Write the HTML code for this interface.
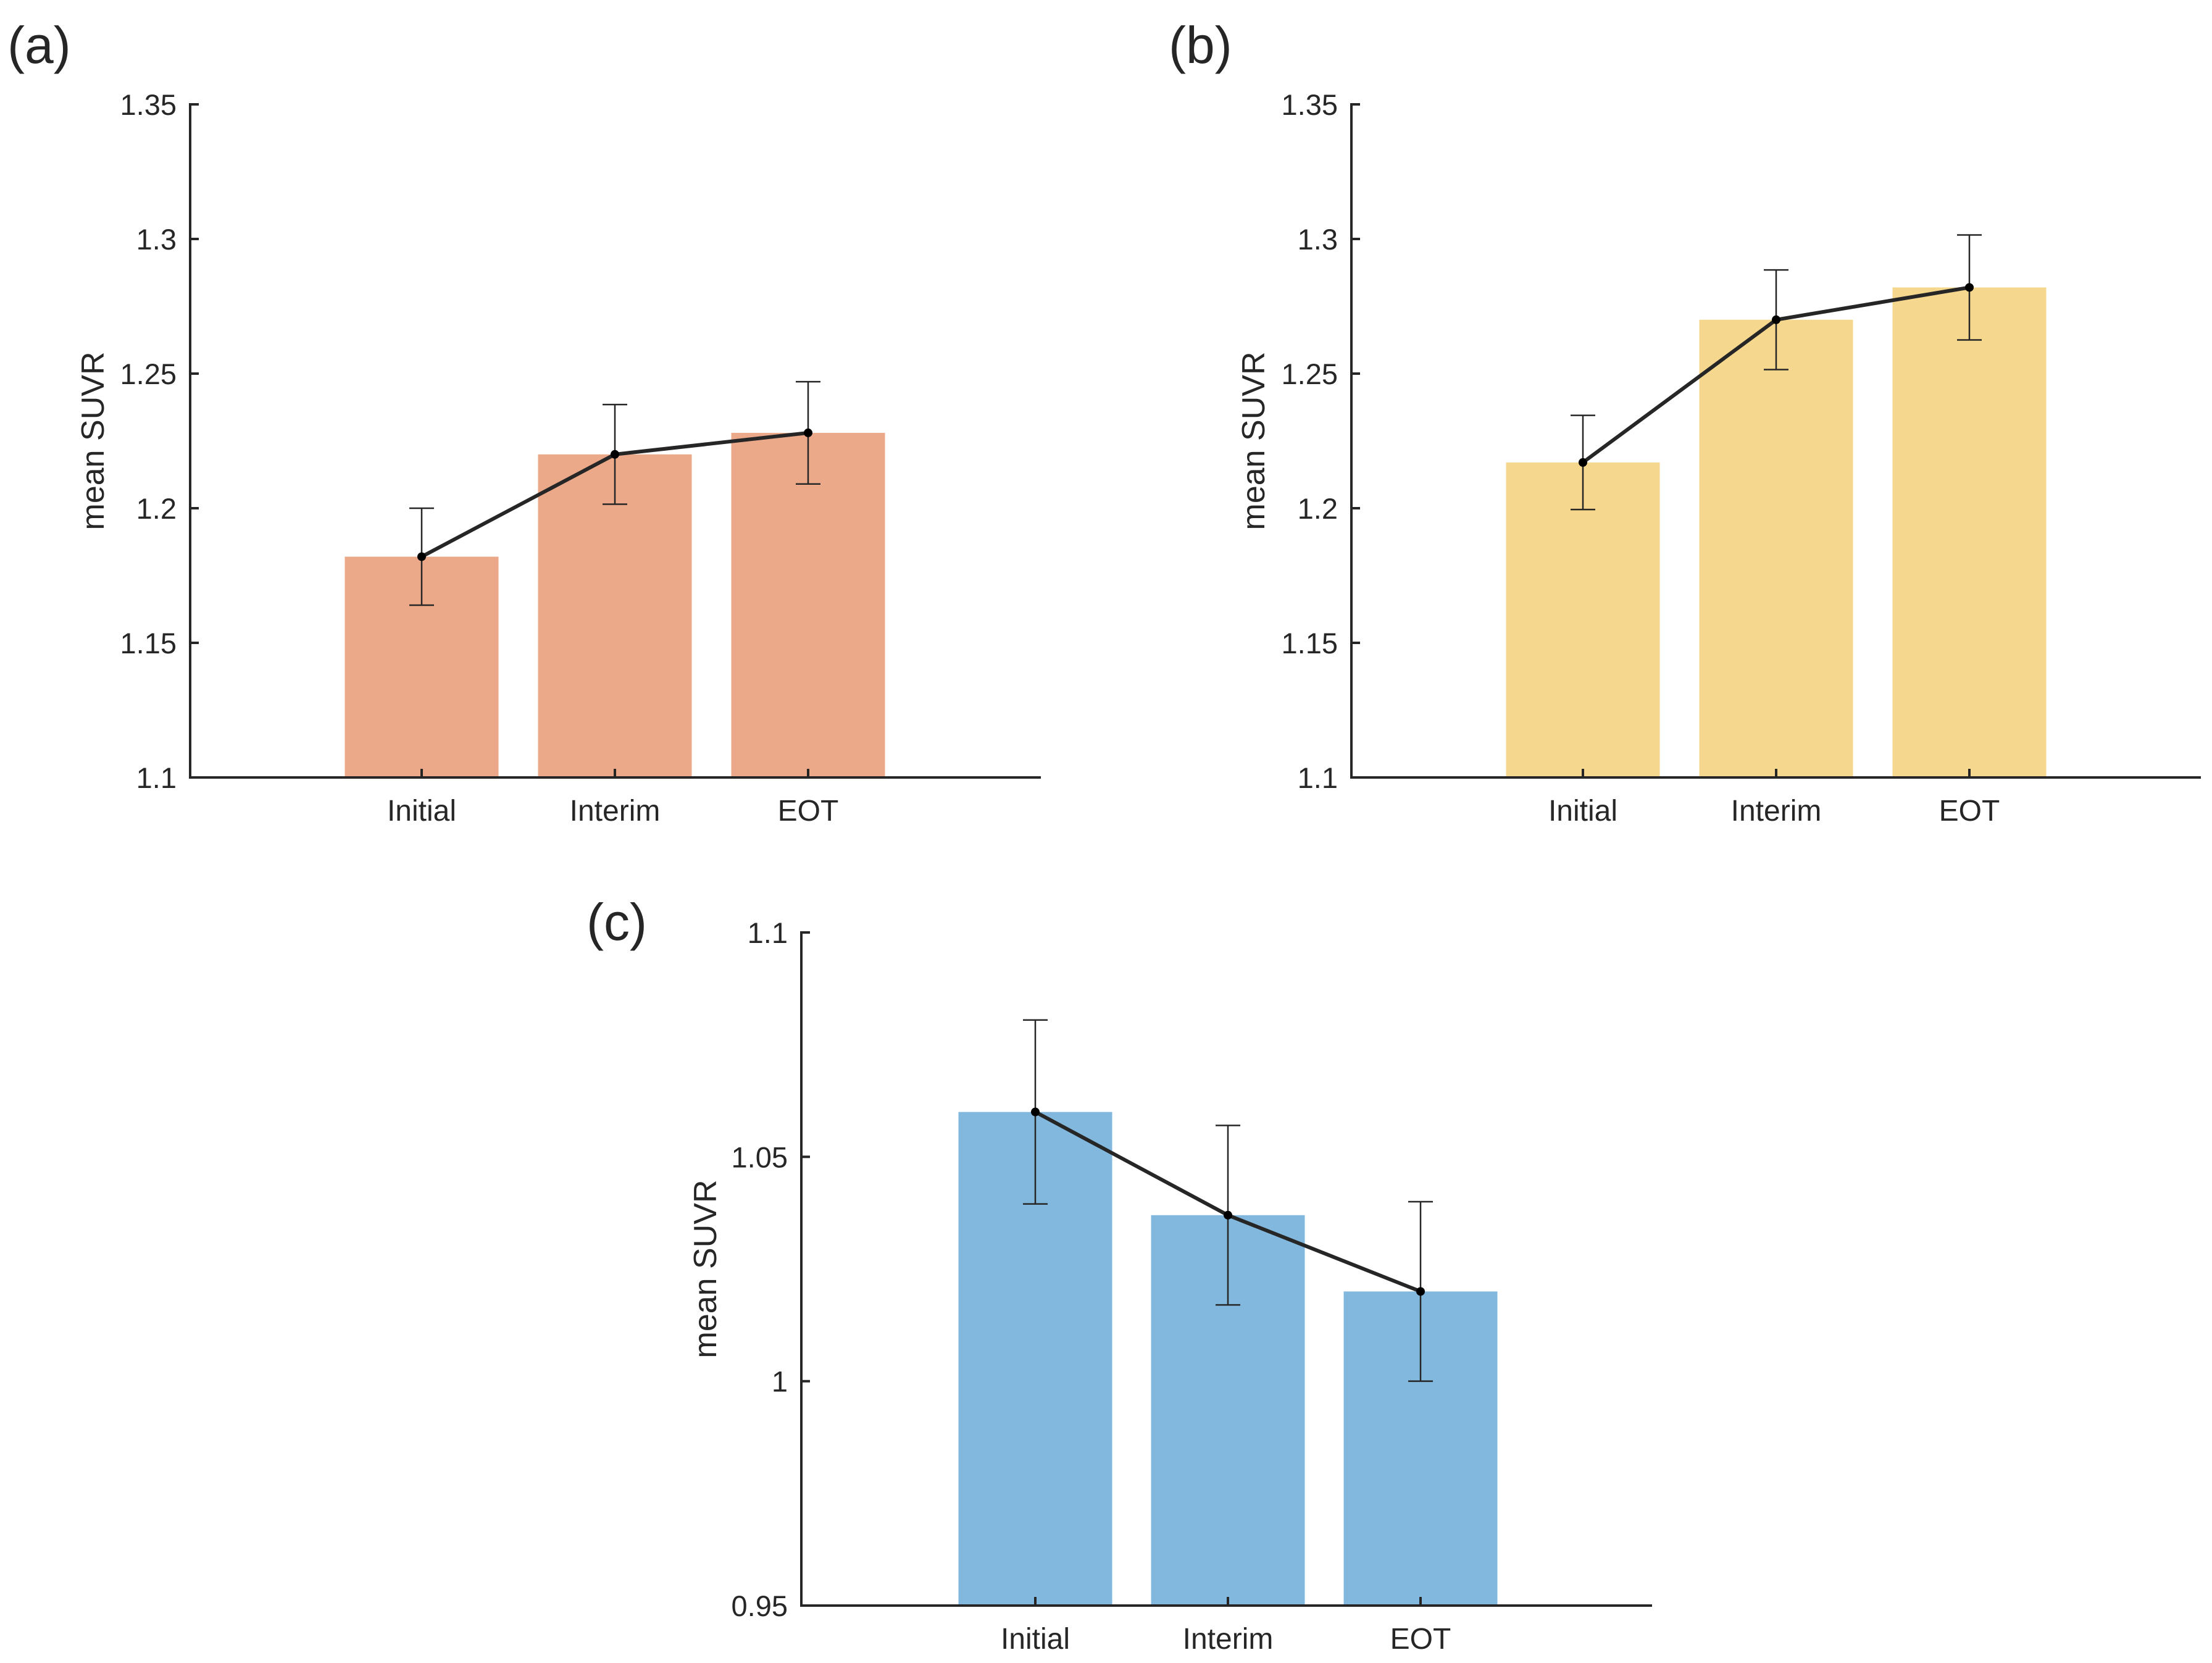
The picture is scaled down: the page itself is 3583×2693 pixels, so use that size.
<!DOCTYPE html>
<html><head><meta charset="utf-8"><style>
html,body{margin:0;padding:0;background:#fff;}
svg text{font-family:"Liberation Sans",Arial,sans-serif;fill:#262626;}
</style></head><body>
<svg id="fig" width="3583" height="2688" viewBox="0 0 3583 2688" xmlns="http://www.w3.org/2000/svg"></svg>
<script>
const categories = ["Initial","Interim","EOT"];
const meansA = [1.182, 1.220, 1.228];
const errA = [0.018, 0.0185, 0.019];
const meansB = [1.217, 1.270, 1.282];
const errB = [0.0175, 0.0185, 0.0195];
const meansC = [1.060, 1.037, 1.020];
const errC = [0.0205, 0.020, 0.020];
const ticksAB = [1.1, 1.15, 1.2, 1.25, 1.3, 1.35];
const tickLabelsAB = ["1.1","1.15","1.2","1.25","1.3","1.35"];
const ticksC = [0.95, 1, 1.05, 1.1];
const tickLabelsC = ["0.95","1","1.05","1.1"];

const NS = "http://www.w3.org/2000/svg";
const svg = document.getElementById('fig');
function mk(tag, attrs, parent, text){
  const e = document.createElementNS(NS, tag);
  for (const k in attrs) e.setAttribute(k, attrs[k]);
  if (text !== undefined) e.textContent = text;
  (parent || svg).appendChild(e);
  return e;
}
function panel(id, letter, lx, ly, cfg, means, errs, ticks, tickLabels, color){
  const g = mk('g', {});
  
  
  const yS = v => cfg.y0 - (v - cfg.vmin) / (cfg.vmax - cfg.vmin) * (cfg.y0 - cfg.y1);
  const xS = i => cfg.c0 + i * cfg.step;
  const lab = mk('text', {x: lx, y: ly, 'font-size': 84}, g, '(' + letter + ')');
  
  
  means.forEach((m, i) => {
    const r = mk('rect', {x: xS(i) - cfg.bw/2, y: yS(m), width: cfg.bw, height: cfg.y0 - yS(m), fill: color}, g);
    
    
  });
  const ya = mk('line', {x1: cfg.ax, y1: cfg.y1 - 2, x2: cfg.ax, y2: cfg.y0, stroke: '#262626', 'stroke-width': 4}, g);
  
  
  const xa = mk('line', {x1: cfg.ax - 2, y1: cfg.y0, x2: cfg.xr, y2: cfg.y0, stroke: '#262626', 'stroke-width': 4}, g);
  
  
  ticks.forEach((t, i) => {
    const y = yS(t);
    mk('line', {x1: cfg.ax, y1: y, x2: cfg.ax + 14, y2: y, stroke: '#262626', 'stroke-width': 4}, g);
    const tl = mk('text', {x: cfg.ax - 22, y: y + 17, 'font-size': 47, 'text-anchor': 'end'}, g, tickLabels[i]);
    
    
  });
  categories.forEach((c, i) => {
    mk('line', {x1: xS(i), y1: cfg.y0, x2: xS(i), y2: cfg.y0 - 14, stroke: '#262626', 'stroke-width': 4}, g);
    const t = mk('text', {x: xS(i), y: cfg.y0 + 70, 'font-size': 48, 'text-anchor': 'middle'}, g, c);
    
    
  });
  const yc = (cfg.y0 + cfg.y1) / 2;
  const yt = mk('text', {x: cfg.tx, y: yc, 'font-size': 52, 'text-anchor': 'middle', transform: 'rotate(-90 ' + cfg.tx + ' ' + yc + ')'}, g, 'mean SUVR');
  
  
  means.forEach((m, i) => {
    const x = xS(i), yt2 = yS(m + errs[i]), yb = yS(m - errs[i]);
    const eg = mk('g', {stroke: '#262626', 'stroke-width': 2.5}, g);
    
    
    mk('line', {x1: x, y1: yt2, x2: x, y2: yb}, eg);
    mk('line', {x1: x - 20, y1: yt2, x2: x + 20, y2: yt2}, eg);
    mk('line', {x1: x - 20, y1: yb, x2: x + 20, y2: yb}, eg);
  });
  const pts = means.map((m, i) => xS(i) + ',' + yS(m)).join(' ');
  const pl = mk('polyline', {points: pts, fill: 'none', stroke: '#262626', 'stroke-width': 6}, g);
  
  
  means.forEach((m, i) => {
    const c = mk('circle', {cx: xS(i), cy: yS(m), r: 7, fill: '#000'}, g);
    
    
  });
}
panel('a', 'a', 12, 102, {ax: 308, xr: 1686, y0: 1259, y1: 169, vmin: 1.1, vmax: 1.35, c0: 683, step: 313, bw: 249, tx: 168}, meansA, errA, ticksAB, tickLabelsAB, '#EBA98A');
panel('b', 'b', 1893, 102, {ax: 2189, xr: 3565, y0: 1259, y1: 169, vmin: 1.1, vmax: 1.35, c0: 2564, step: 313, bw: 249, tx: 2048}, meansB, errB, ticksAB, tickLabelsAB, '#F5D78E');
panel('c', 'c', 950, 1522, {ax: 1298, xr: 2676, y0: 2600, y1: 1510, vmin: 0.95, vmax: 1.1, c0: 1677, step: 312, bw: 249, tx: 1160}, meansC, errC, ticksC, tickLabelsC, '#82B8DD');
</script>
</body></html>
